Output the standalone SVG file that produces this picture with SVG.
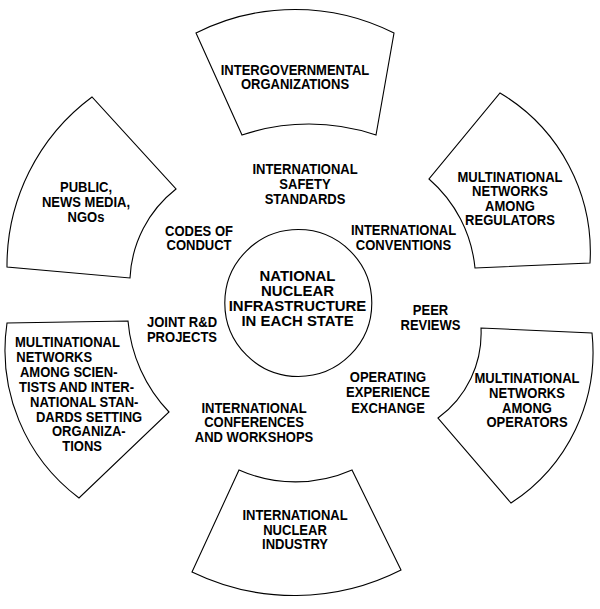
<svg xmlns="http://www.w3.org/2000/svg" width="600" height="609" viewBox="0 0 600 609">
<style>
.shape{fill:#fff;stroke:#000;stroke-width:1.1}
text{font-family:"Liberation Sans",Arial,sans-serif;font-weight:bold;font-size:14px;fill:#000}
.c{text-anchor:middle}
.big{font-size:14.5px}
</style>
<rect width="600" height="609" fill="#fff"/>
<g id="intergovernmental">
<path class="shape" d="M196,33 A220,220 0 0 1 394,33 L376,135 A210,210 0 0 0 242,135 Z"/>
<text class="c" transform="translate(295,0) scale(0.93,1)"><tspan x="0" y="75">INTERGOVERNMENTAL</tspan><tspan x="0" y="89.5">ORGANIZATIONS</tspan></text>
</g>
<g id="regulators">
<path class="shape" d="M500,93 A185,185 0 0 1 590,263 L475,268 A135,135 0 0 0 429,179 Z"/>
<text class="c" transform="translate(510,0) scale(0.93,1)"><tspan x="0" y="182">MULTINATIONAL</tspan><tspan x="0" y="196.5">NETWORKS</tspan><tspan x="0" y="211">AMONG</tspan><tspan x="0" y="225.5">REGULATORS</tspan></text>
</g>
<g id="operators">
<path class="shape" d="M592,333 A180,180 0 0 1 511,503 L438,418 A105,105 0 0 0 481,328 Z"/>
<text class="c" transform="translate(527,0) scale(0.93,1)"><tspan x="0" y="383.3">MULTINATIONAL</tspan><tspan x="0" y="398.3">NETWORKS</tspan><tspan x="0" y="412.7">AMONG</tspan><tspan x="0" y="427.3">OPERATORS</tspan></text>
</g>
<g id="industry">
<path class="shape" d="M401,570 A235,235 0 0 1 192,572 L239,470 A140,140 0 0 0 352,470 Z"/>
<text class="c" transform="translate(295,0) scale(0.93,1)"><tspan x="0" y="520">INTERNATIONAL</tspan><tspan x="0" y="535">NUCLEAR</tspan><tspan x="0" y="549.5">INDUSTRY</tspan></text>
</g>
<g id="scientists">
<path class="shape" d="M79,498 A185,185 0 0 1 7,323 L128,321 A150,150 0 0 0 169,412 Z"/>
<text transform="scale(0.93,1)"><tspan x="16.1" y="346.7">MULTINATIONAL</tspan><tspan x="17.5" y="361.7">NETWORKS</tspan><tspan x="21.5" y="376.7">AMONG SCIEN-</tspan><tspan x="20.4" y="391.7">TISTS AND INTER-</tspan><tspan x="32.3" y="406.7">NATIONAL STAN-</tspan><tspan x="38.7" y="421.7">DARDS SETTING</tspan><tspan x="55.9" y="436.5">ORGANIZA-</tspan><tspan x="67" y="451">TIONS</tspan></text>
</g>
<g id="public">
<path class="shape" d="M7,267 A210,210 0 0 1 92,97 L176,189 A120,120 0 0 0 130,278 Z"/>
<text class="c" transform="translate(86,0) scale(0.93,1)"><tspan x="0" y="191.7">PUBLIC,</tspan><tspan x="0" y="206.7">NEWS MEDIA,</tspan><tspan x="0" y="221.7">NGOs</tspan></text>
</g>
<g id="national">
<circle class="shape" cx="298.3" cy="303" r="73.5"/>
<text class="c big" transform="translate(297.5,0) scale(1.03,1)"><tspan x="0" y="280.7">NATIONAL</tspan><tspan x="0" y="295.8">NUCLEAR</tspan><tspan x="0" y="311">INFRASTRUCTURE</tspan><tspan x="0" y="326.5">IN EACH STATE</tspan></text>
</g>
<g id="labels">
<text class="c" transform="translate(305,0) scale(0.93,1)"><tspan x="0" y="174">INTERNATIONAL</tspan><tspan x="0" y="189.2">SAFETY</tspan><tspan x="0" y="204.3">STANDARDS</tspan></text>
<text class="c" transform="translate(199,0) scale(0.93,1)"><tspan x="0" y="236">CODES OF</tspan><tspan x="0" y="250.5">CONDUCT</tspan></text>
<text class="c" transform="translate(403.5,0) scale(0.93,1)"><tspan x="0" y="235">INTERNATIONAL</tspan><tspan x="0" y="250">CONVENTIONS</tspan></text>
<text class="c" transform="translate(430.5,0) scale(0.93,1)"><tspan x="0" y="315">PEER</tspan><tspan x="0" y="330">REVIEWS</tspan></text>
<text class="c" transform="translate(182,0) scale(0.93,1)"><tspan x="0" y="326.7">JOINT R&amp;D</tspan><tspan x="0" y="341.7">PROJECTS</tspan></text>
<text class="c" transform="translate(388,0) scale(0.93,1)"><tspan x="0" y="382.3">OPERATING</tspan><tspan x="0" y="397.3">EXPERIENCE</tspan><tspan x="0" y="412.7">EXCHANGE</tspan></text>
<text class="c" transform="translate(254,0) scale(0.93,1)"><tspan x="0" y="412.7">INTERNATIONAL</tspan><tspan x="0" y="427.5">CONFERENCES</tspan><tspan x="0" y="442.5">AND WORKSHOPS</tspan></text>
</g>
</svg>
